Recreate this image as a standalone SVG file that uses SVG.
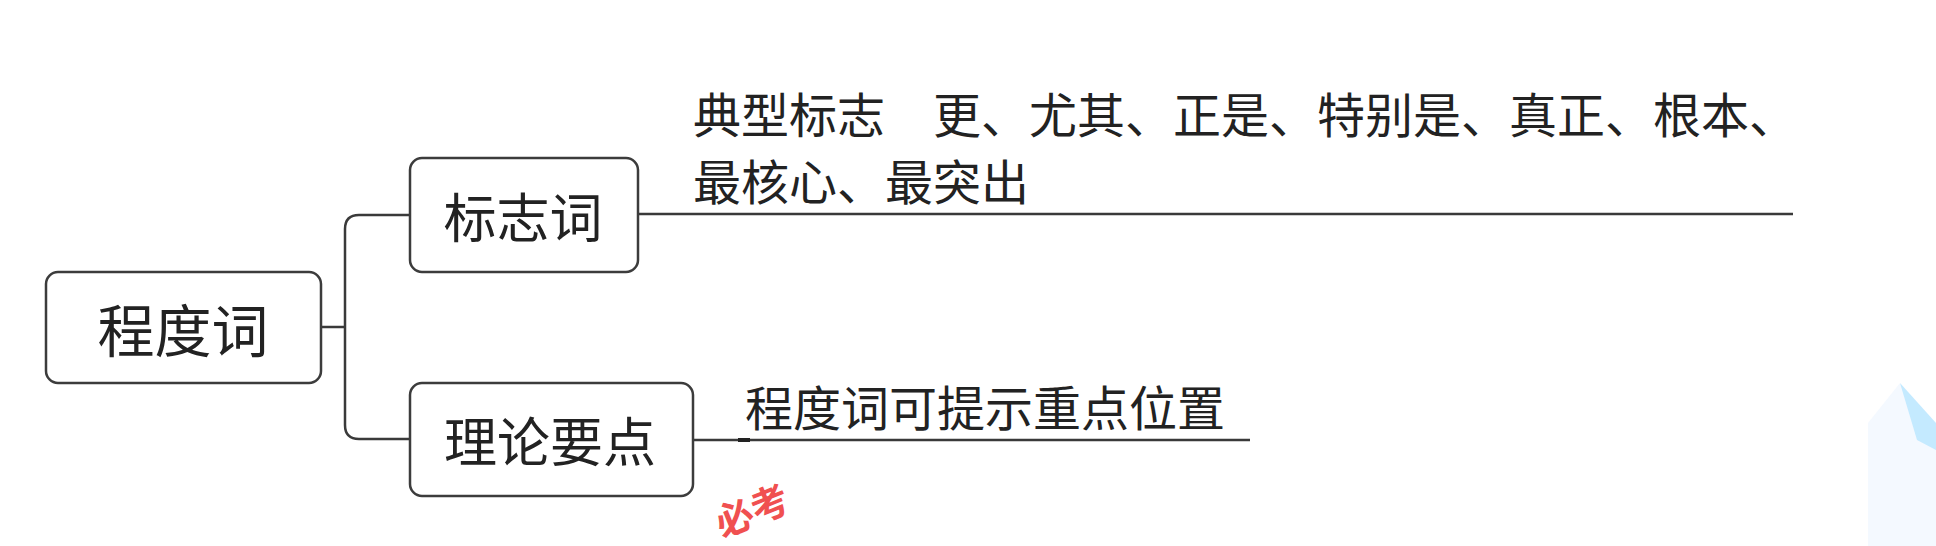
<svg xmlns="http://www.w3.org/2000/svg" width="1936" height="546" viewBox="0 0 1936 546">
<style>
.box{fill:#fff;stroke:#3c3c3c;stroke-width:2.5}
.ln{fill:none;stroke:#3a3a3a;stroke-width:2.5}
.t{font-family:"Noto Sans CJK SC",sans-serif;fill:#222;dominant-baseline:central}
</style>
<rect width="1936" height="546" fill="#fff"/>
<g id="watermark">
<polygon points="1868,423 1868,546 1936,546 1936,440 1900,383" fill="#f4f9ff"/>
<polygon points="1900,383 1917,440 1936,450 1936,423" fill="#c4eaff"/>
<text x="0" y="0" transform="translate(722,538) rotate(-22)" font-family="Noto Sans CJK SC,sans-serif" font-size="38" font-weight="bold" fill="#f05050">必考</text>
</g>
<g id="connectors">
<path class="ln" d="M321,327 H345"/>
<path class="ln" d="M410,215 H359 Q345,215 345,229 V425 Q345,439 359,439 H410"/>
<path class="ln" d="M638,214 H1793"/>
<path class="ln" d="M693,440 H1250"/>
<path d="M738,440 H750" stroke="#222" stroke-width="4"/>
</g>
<g id="root">
<rect class="box" x="46" y="272" width="275" height="111" rx="12"/>
<text class="t" x="183" y="327" font-size="57" text-anchor="middle">程度词</text>
</g>
<g id="n1">
<rect class="box" x="410" y="158" width="228" height="114" rx="12"/>
<text class="t" x="523" y="215" font-size="53" text-anchor="middle">标志词</text>
</g>
<g id="n2">
<rect class="box" x="410" y="383" width="283" height="113" rx="12"/>
<text class="t" x="550" y="439" font-size="53" text-anchor="middle">理论要点</text>
</g>
<g id="leaf1">
<text class="t" x="693" y="112" font-size="48">典型标志　更、尤其、正是、特别是、真正、根本、</text>
<text class="t" x="693" y="179" font-size="48">最核心、最突出</text>
</g>
<g id="leaf2">
<text class="t" x="745" y="405" font-size="48">程度词可提示重点位置</text>
</g>
</svg>
